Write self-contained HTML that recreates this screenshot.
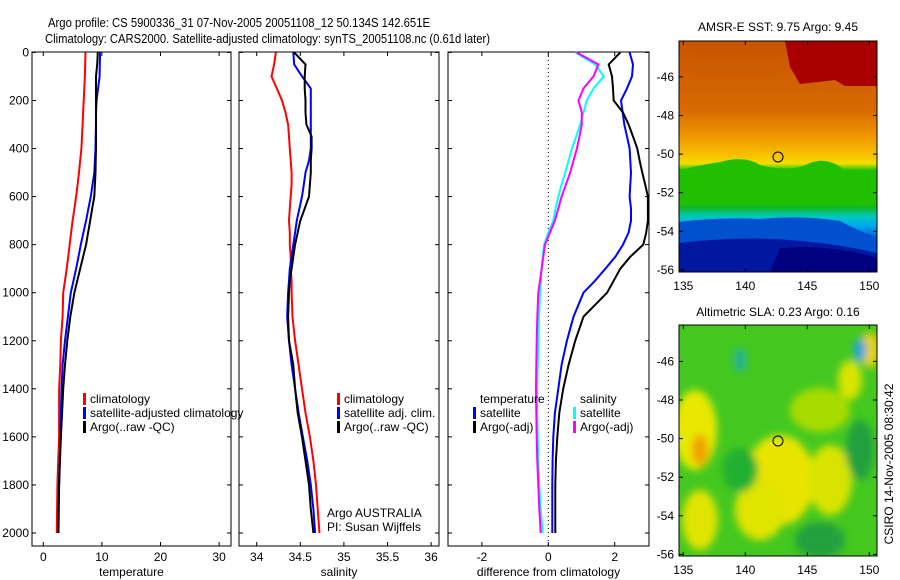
<!DOCTYPE html>
<html><head><meta charset="utf-8"><style>
body{margin:0;background:#fff}
svg{display:block;font-family:"Liberation Sans",sans-serif}
</style></head><body>
<svg id="c" width="900" height="580" viewBox="0 0 900 580">
<defs>
<linearGradient id="sstg" x1="0" y1="0" x2="0" y2="1">
<stop offset="0" stop-color="#c85400"/><stop offset="0.3" stop-color="#d86a00"/>
<stop offset="0.42" stop-color="#f09a00"/><stop offset="0.5" stop-color="#f8c400"/>
<stop offset="0.53" stop-color="#f0e000"/><stop offset="0.56" stop-color="#20c000"/>
<stop offset="0.72" stop-color="#10b820"/><stop offset="0.76" stop-color="#00c8c0"/>
<stop offset="0.8" stop-color="#00a8f0"/><stop offset="0.86" stop-color="#0050d0"/>
<stop offset="0.93" stop-color="#0020a0"/><stop offset="1" stop-color="#000080"/>
</linearGradient>
<filter id="bl"><feGaussianBlur stdDeviation="4"/></filter>
<clipPath id="m1"><rect x="679" y="41" width="198" height="231"/></clipPath>
<clipPath id="m2"><rect x="679" y="325" width="198" height="231"/></clipPath>
</defs>
<text x="48" y="27" font-size="13" textLength="382" lengthAdjust="spacingAndGlyphs">Argo profile: CS 5900336_31 07-Nov-2005 20051108_12 50.134S 142.651E</text>
<text x="45" y="43" font-size="13" textLength="445" lengthAdjust="spacingAndGlyphs">Climatology: CARS2000. Satellite-adjusted climatology: synTS_20051108.nc (0.61d later)</text>

<g clip-path="url(#m1)">
<rect x="679" y="41" width="198" height="231" fill="url(#sstg)"/>
<path d="M785 41 L877 41 L877 86 L845 86 L835 80 L800 84 L790 67 Z" fill="#a80000"/>
<path d="M679 170 Q700 165 720 162 Q745 155 760 165 Q790 173 810 163 Q830 155 850 175 Q865 180 877 170 L877 205 L679 205 Z" fill="#20c000"/>
<path d="M679 222 Q720 217 760 219 Q800 215 840 221 Q860 232 877 237 L877 272 L679 272 Z" fill="#0050d0"/>
<path d="M679 243 Q740 236 790 240 Q840 244 877 253 L877 272 L679 272 Z" fill="#0018a0"/>
<path d="M780 248 Q830 244 877 258 L877 272 L770 272 Z" fill="#000080"/>
</g>
<rect x="679" y="41" width="198" height="231" fill="none" stroke="#000"/>
<circle cx="778" cy="157" r="5" fill="none" stroke="#000"/>
<text x="778" y="31" font-size="12" text-anchor="middle">AMSR-E SST: 9.75 Argo: 9.45</text>

<g clip-path="url(#m2)">
<rect x="679" y="325" width="198" height="231" fill="#44c820"/>
<g filter="url(#bl)">
<ellipse cx="695" cy="430" rx="22" ry="40" fill="#e8e800"/>
<ellipse cx="700" cy="450" rx="8" ry="16" fill="#f0a000"/>
<ellipse cx="780" cy="480" rx="35" ry="45" fill="#e8e400"/>
<ellipse cx="760" cy="510" rx="25" ry="30" fill="#e0e400"/>
<ellipse cx="830" cy="480" rx="22" ry="35" fill="#d8e400"/>
<ellipse cx="700" cy="520" rx="18" ry="30" fill="#e0e400"/>
<ellipse cx="850" cy="380" rx="12" ry="20" fill="#d8e400"/>
<ellipse cx="870" cy="350" rx="10" ry="18" fill="#e8d000"/>
<ellipse cx="860" cy="350" rx="6" ry="12" fill="#20a0e0"/>
<ellipse cx="740" cy="360" rx="6" ry="12" fill="#20b0a0"/>
<ellipse cx="740" cy="470" rx="18" ry="22" fill="#20b030"/>
<ellipse cx="820" cy="410" rx="30" ry="22" fill="#a8dc00"/>
<ellipse cx="860" cy="450" rx="14" ry="30" fill="#20a040"/>
<ellipse cx="820" cy="540" rx="25" ry="18" fill="#20a040"/>
</g>
</g>
<rect x="679" y="325" width="198" height="231" fill="none" stroke="#000"/>
<circle cx="778" cy="441" r="5" fill="none" stroke="#000"/>
<text x="778" y="316" font-size="12" text-anchor="middle">Altimetric SLA: 0.23 Argo: 0.16</text>
<text transform="translate(893,464) rotate(-90)" font-size="12" text-anchor="middle">CSIRO 14-Nov-2005 08:30:42</text>
<g id="axes"></g>
</svg>
<script>
const depths=[0,50,100,150,200,250,300,350,400,450,500,550,600,650,700,750,800,850,900,950,1000,1100,1200,1300,1400,1500,1600,1700,1800,1900,2000];
const tClim=[7.2,7.15,7.1,7.0,6.9,6.8,6.7,6.6,6.5,6.3,6.1,5.85,5.6,5.3,5.0,4.75,4.5,4.25,4.0,3.7,3.4,3.3,3.0,2.9,2.7,2.7,2.7,2.55,2.4,2.35,2.3];
const tSat=[9.7,9.65,9.6,9.35,9.1,9.0,9.0,8.95,8.9,8.8,8.7,8.4,8.1,7.7,7.3,6.85,6.4,6.0,5.6,5.15,4.7,4.2,3.7,3.3,3.1,3.0,2.9,2.8,2.7,2.6,2.5];
const tArgo=[9.3,9.2,9.0,9.0,9.0,9.0,9.0,9.0,9.0,8.95,8.9,8.8,8.7,8.35,8.0,7.65,7.3,6.8,6.3,5.8,5.3,4.6,4.1,3.7,3.4,3.2,3.0,2.85,2.7,2.65,2.6];
const sClim=[34.22,34.2,34.17,34.23,34.29,34.33,34.36,34.37,34.38,34.39,34.40,34.40,34.39,34.38,34.37,34.38,34.38,34.39,34.39,34.4,34.40,34.41,34.44,34.48,34.52,34.56,34.61,34.65,34.68,34.70,34.72];
const sSat=[34.42,34.43,34.52,34.62,34.62,34.62,34.62,34.62,34.62,34.60,34.56,34.54,34.52,34.49,34.46,34.44,34.42,34.40,34.38,34.37,34.36,34.35,34.37,34.40,34.44,34.48,34.53,34.58,34.62,34.65,34.67];
const sArgo=[34.43,34.56,34.55,34.55,34.56,34.56,34.57,34.63,34.63,34.62,34.62,34.61,34.60,34.55,34.50,34.47,34.44,34.42,34.40,34.38,34.37,34.36,34.37,34.42,34.44,34.47,34.52,34.56,34.60,34.62,34.65];
const dTSat=[2.45,2.55,2.52,2.37,2.19,2.24,2.29,2.37,2.45,2.47,2.49,2.47,2.45,2.49,2.49,2.42,2.25,2.02,1.72,1.41,1.06,0.76,0.56,0.40,0.30,0.20,0.15,0.13,0.12,0.12,0.12];
const dTArgo=[2.17,1.82,1.92,1.95,1.97,2.25,2.42,2.55,2.68,2.75,2.83,2.92,3.0,3.0,3.0,2.95,2.86,2.47,2.17,1.97,1.77,1.06,0.81,0.61,0.45,0.33,0.27,0.23,0.21,0.21,0.21];
const dSSat=[0.81,1.41,1.67,1.36,1.16,1.06,0.96,0.84,0.71,0.61,0.51,0.40,0.30,0.22,0.15,0.0,-0.13,-0.17,-0.2,-0.22,-0.25,-0.28,-0.30,-0.32,-0.33,-0.33,-0.32,-0.3,-0.27,-0.23,-0.17];
const dSArgo=[0.85,1.51,1.36,1.06,0.91,1.01,1.01,0.94,0.86,0.76,0.66,0.53,0.40,0.30,0.20,0.05,-0.10,-0.15,-0.2,-0.25,-0.30,-0.33,-0.35,-0.36,-0.37,-0.36,-0.35,-0.33,-0.30,-0.27,-0.23];
const depthTicks=[0,200,400,600,800,1000,1200,1400,1600,1800,2000];
const tempTicks=[0,10,20,30];
const salTicks=[34,34.5,35,35.5,36];
const diffTicks=[-2,0,2];
const latTicks=[-46,-48,-50,-52,-54,-56];
const lonTicks=[135,140,145,150];

const NS='http://www.w3.org/2000/svg';
const root=document.getElementById('axes');
function mk(tag,at,parent){const e=document.createElementNS(NS,tag);for(const k in at)e.setAttribute(k,at[k]);(parent||root).appendChild(e);return e;}
const PT=52,PB=546;
const yD=d=>52.4+d*0.2403;
const panels=[
 {name:'temperature',x0:32,x1:231,fx:v=>43.3+v*5.86,ticks:tempTicks,label:'temperature'},
 {name:'salinity',x0:239,x1:439,fx:v=>256.7+(v-34)*87.2,ticks:salTicks,label:'salinity'},
 {name:'difference',x0:448,x1:649,fx:v=>548.3+v*33.2,ticks:diffTicks,label:'difference from climatology'}
];
panels.forEach((p,i)=>{
 const g=mk('g',{});
 
 
 const fr=mk('rect',{x:p.x0,y:PT,width:p.x1-p.x0,height:PB-PT,fill:'none',stroke:'#000'},g);
 
 
 p.ticks.forEach(t=>{
  const x=p.fx(t);
  mk('line',{x1:x,x2:x,y1:PT,y2:PT+4,stroke:'#000'},g);
  mk('line',{x1:x,x2:x,y1:PB,y2:PB-4,stroke:'#000'},g);
  const tx=mk('text',{x:x,y:561,'font-size':12,'text-anchor':'middle'},g);
  tx.textContent=String(t);
  
  
 });
 depthTicks.forEach(d=>{
  const y=yD(d);
  mk('line',{x1:p.x0,x2:p.x0+4,y1:y,y2:y,stroke:'#000'},g);
  mk('line',{x1:p.x1,x2:p.x1-4,y1:y,y2:y,stroke:'#000'},g);
  if(i===0){const tx=mk('text',{x:29,y:y+4,'font-size':12,'text-anchor':'end'},g);tx.textContent=String(d);
   
   }
 });
 const xl=mk('text',{x:(p.x0+p.x1)/2,y:576,'font-size':12,'text-anchor':'middle'},g);
 xl.textContent=p.label;
 
 
});
const zl=mk('line',{x1:panels[2].fx(0),x2:panels[2].fx(0),y1:PT,y2:PB,stroke:'#000','stroke-dasharray':'1,3'});


function series(p,vals,col,name){
 const pts=vals.map((v,k)=>p.fx(v).toFixed(1)+','+yD(depths[k]).toFixed(1)).join(' ');
 const l=mk('polyline',{points:pts,fill:'none',stroke:col,'stroke-width':2});
 
 
}
series(panels[0],tClim,'#ff0000','temp-climatology-line');
series(panels[0],tSat,'#0000ff','temp-satellite-line');
series(panels[0],tArgo,'#000','temp-argo-line');
series(panels[1],sClim,'#ff0000','sal-climatology-line');
series(panels[1],sSat,'#0000ff','sal-satellite-line');
series(panels[1],sArgo,'#000','sal-argo-line');
series(panels[2],dSSat,'#00ffff','diff-sal-satellite-line');
series(panels[2],dSArgo,'#ff00ff','diff-sal-argo-line');
series(panels[2],dTSat,'#0000ff','diff-temp-satellite-line');
series(panels[2],dTArgo,'#000','diff-temp-argo-line');
function leg(x,y,col,txt){
 if(col) mk('rect',{x:x,y:y-10,width:3,height:12,fill:col});
 const t=mk('text',{x:x+7,y:y,'font-size':12});t.textContent=txt;
 
 
}
leg(83,403,'#ff0000','climatology');leg(83,417,'#0000ff','satellite-adjusted climatology');leg(83,431,'#000','Argo(..raw -QC)');
leg(337,403,'#ff0000','climatology');leg(337,417,'#0000ff','satellite adj. clim.');leg(337,431,'#000','Argo(..raw -QC)');
leg(473,403,null,'temperature');leg(473,417,'#0000ff','satellite');leg(473,431,'#000','Argo(-adj)');
leg(573,403,null,'salinity');leg(573,417,'#00ffff','satellite');leg(573,431,'#ff00ff','Argo(-adj)');
const a1=mk('text',{x:327,y:517,'font-size':12});a1.textContent='Argo AUSTRALIA';


const a2=mk('text',{x:327,y:531,'font-size':12});a2.textContent='PI: Susan Wijffels';


[{y0:41,y1:272,lat46:76.9,lab:286},{y0:325,y1:556,lat46:361.4,lab:570}].forEach((m,j)=>{
 const fy=lat=>m.lat46+(-46-lat)*19.3, fx=lon=>683.3+(lon-135)*12.4;
 latTicks.forEach(l=>{const y=fy(l);
  mk('line',{x1:679,x2:683,y1:y,y2:y,stroke:'#000'});mk('line',{x1:877,x2:873,y1:y,y2:y,stroke:'#000'});
  const t=mk('text',{x:674,y:y+4,'font-size':12,'text-anchor':'end'});t.textContent=String(l);
  
  });
 lonTicks.forEach(l=>{const x=fx(l);
  mk('line',{x1:x,x2:x,y1:m.y0,y2:m.y0+4,stroke:'#000'});mk('line',{x1:x,x2:x,y1:m.y1,y2:m.y1-4,stroke:'#000'});
  const t=mk('text',{x:x,y:m.lab+4,'font-size':12,'text-anchor':'middle'});t.textContent=String(l);
  
  });
});
</script>
</body></html>
